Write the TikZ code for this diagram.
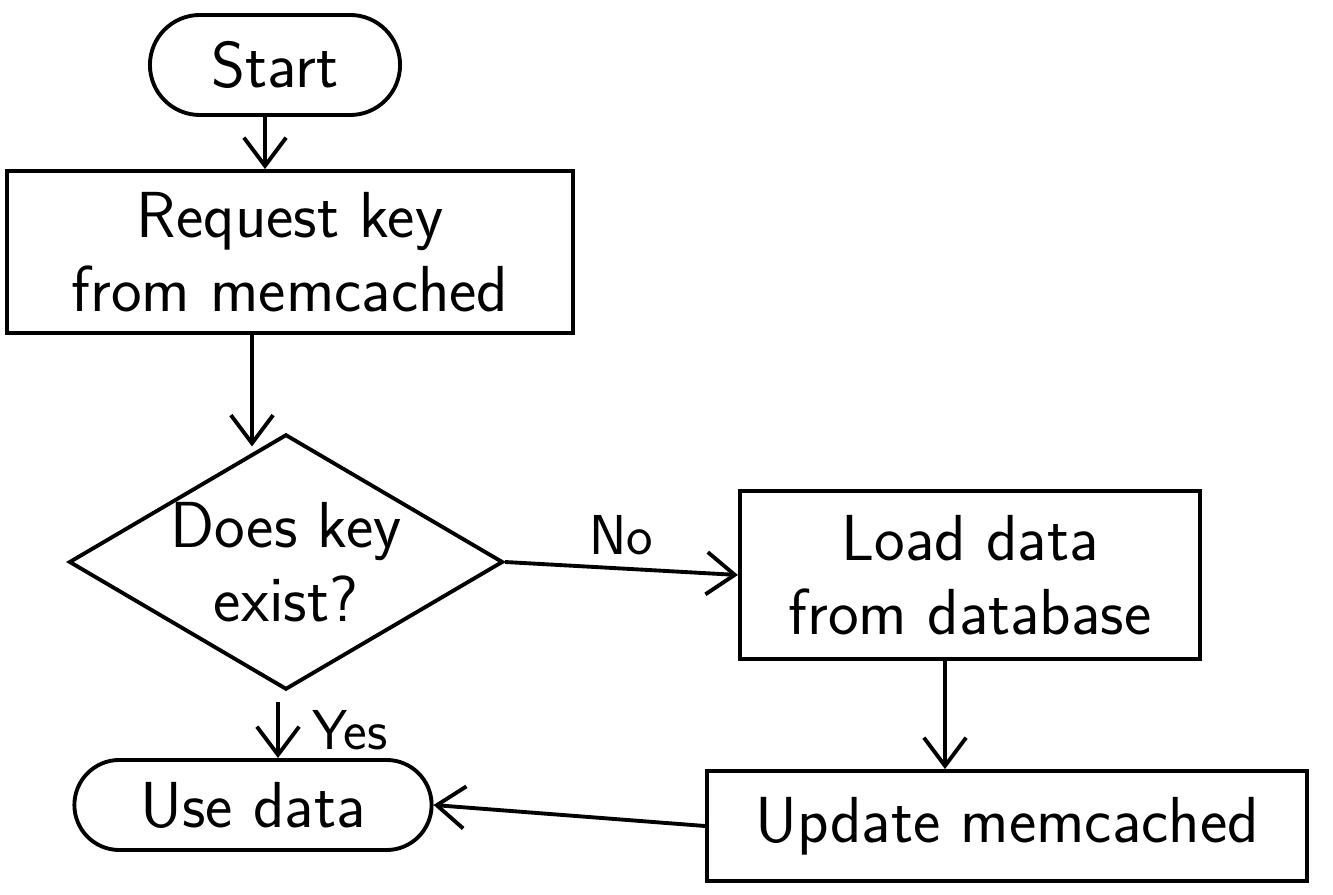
\documentclass[tikz,border=0pt]{standalone}
\usetikzlibrary{shapes.geometric,shapes.misc,arrows.meta}
\begin{document}
\begin{tikzpicture}[x=0.01cm,y=-0.01cm,
  every node/.style={font=\sffamily\fontsize{18.5}{21}\selectfont, align=center, line width=1.1pt},
  procbox/.style={draw, rectangle, inner sep=0pt},
  termbox/.style={draw, rounded rectangle, inner sep=0pt},
  decbox/.style={draw, diamond, aspect=1.7, inner sep=0pt},
  flow/.style={-{Straight Barb[length=8pt,width=12pt]}, line width=1.1pt},
  lbl/.style={font=\sffamily\fontsize{16}{20}\selectfont}]
\path[use as bounding box, fill=white] (0,0) rectangle (1333,895);

\node[termbox, minimum width=2.5cm, minimum height=1.0cm] (start) at (275,65) {Start};
\node[procbox, minimum width=5.65cm, minimum height=1.62cm] (req) at (290,252) {Request key\\from memcached};
\node[decbox, minimum width=4.25cm, minimum height=2.53cm] (dec) at (286,562) {Does key\\exist?};
\node[procbox, minimum width=4.6cm, minimum height=1.68cm] (load) at (970,575) {Load data\\from database};
\node[procbox, minimum width=6.0cm, minimum height=1.1cm] (upd) at (1007,826) {Update memcached};
\node[termbox, minimum width=3.57cm, minimum height=0.9cm] (use) at (253,805) {Use data};

\draw[flow] (start.south -| 265,0) -- (req.north -| 265,0);
\draw[flow] (req.south -| 252,0) -- ([yshift=-4pt]dec.north -| 252,0);
\draw[flow] (dec.east) -- node[lbl, above] {No} (load.west);
\draw[flow] ([yshift=-3pt]dec.south -| 278,0) -- node[lbl, right=6pt] {Yes} (use.north -| 278,0);
\draw[flow] (load.south -| 945,0) -- (upd.north -| 945,0);
\draw[flow] (upd.west) -- (use.east);
\end{tikzpicture}
\end{document}
